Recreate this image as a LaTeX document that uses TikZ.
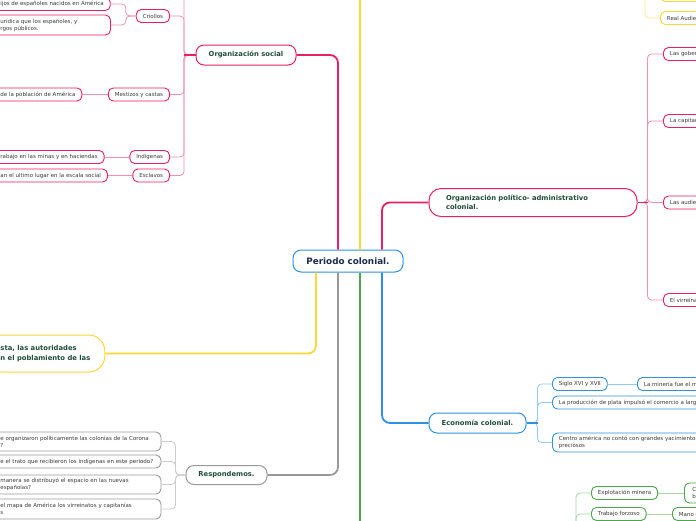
\documentclass[tikz,border=0pt]{standalone}
\usepackage{fontspec}
\setmainfont{DejaVu Sans}
\usetikzlibrary{positioning}
\definecolor{pinkc}{HTML}{E91E63}
\definecolor{pinkl}{HTML}{F48FB1}
\definecolor{yelc}{HTML}{FDD835}
\definecolor{yell}{HTML}{FFE57F}
\definecolor{bluc}{HTML}{2E91E5}
\definecolor{blul}{HTML}{90CAF9}
\definecolor{grnc}{HTML}{4CA64A}
\definecolor{grnl}{HTML}{A5D6A7}
\definecolor{gryc}{HTML}{999999}
\definecolor{gryl}{HTML}{CCCCCC}
\definecolor{navy}{HTML}{1B2A4E}
\definecolor{dgreen}{HTML}{1E4D3A}
\definecolor{leaftext}{HTML}{3A3A3A}
\tikzset{
  central/.style={draw=bluc, fill=white, line width=1pt, rounded corners=8pt,
    font=\bfseries\fontsize{8.8}{10}\selectfont, text=navy,
    minimum width=110pt, minimum height=22pt},
  topic/.style={draw=#1, fill=white, line width=1pt, rounded corners=8pt,
    font=\bfseries\fontsize{6.8}{9.5}\selectfont, text=dgreen,
    minimum height=20pt, inner xsep=11.5pt, align=left},
  leaf/.style={draw=#1, fill=white, line width=0.9pt, rounded corners=5pt,
    font=\fontsize{5.5}{6.8}\selectfont, text=leaftext,
    minimum height=13pt, inner xsep=6.5pt, inner ysep=1.5pt, align=left},
  trunk/.style={draw=#1, line width=1.8pt, rounded corners=8pt},
  twig/.style={draw=#1, line width=0.8pt, rounded corners=4pt}
}

\begin{document}
\begin{tikzpicture}[x=1pt,y=-1pt]
\useasboundingbox (0,0) rectangle (696,520);
\clip (0,0) rectangle (696,520);

% centre
\node[central] (root) at (348,261) {Periodo colonial.};

% organizacion social
\node[topic=pinkc, minimum width=100pt] (orgsoc) at (246,55) {Organización social};
\node[leaf=pinkc, anchor=east] (criollos) at (170,16) {Criollos};
\node[leaf=pinkc, anchor=east] (mestizos) at (170,94.5) {Mestizos y castas};
\node[leaf=pinkc, anchor=east] (indigenas) at (170,157) {Indígenas};
\node[leaf=pinkc, anchor=east] (esclavos) at (170,175.5) {Esclavos};
\node[leaf=pinkc, anchor=west] (hijos) at (-6.5,4) {ijos de españoles nacidos en América};
\node[leaf=pinkc, anchor=west, text width=103.5pt, minimum height=20pt] (juridica) at (-6.5,25)
  {urídica que los españoles, y\\rgos públicos.};
\node[leaf=pinkc, anchor=west] (poblacion) at (-6.5,94.5) {de la población de América};
\node[leaf=pinkc, anchor=west] (trabajo) at (-6.5,157) {rabajo en las minas y en haciendas};
\node[leaf=pinkc, anchor=west] (ultimo) at (-6.5,175.5) {an el ultimo lugar en la escala social};
\coordinate (soctop) at (184.5,-20);

% yellow, left
\node[topic=yelc, anchor=west, inner xsep=14.5pt, minimum height=37pt, rounded corners=16pt] (ybig) at (-14.5,353.5)
  {sta, las autoridades\\n el poblamiento de las};
\coordinate (yup) at (360,-20);

% respondemos
\node[topic=gryc, minimum width=81pt, minimum height=19pt] (respond) at (226.5,475) {Respondemos.};
\node[leaf=gryc, anchor=west, text width=154pt, minimum height=19pt] (q1) at (-6.5,441.5)
  {e organizaron políticamente las colonias de la Corona\\?};
\node[leaf=gryc, anchor=west, text width=154pt] (q2) at (-6.5,461.5)
  {e el trato que recibieron los indígenas en este periodo?};
\node[leaf=gryc, anchor=west, text width=154pt, minimum height=19pt] (q3) at (-6.5,484.5)
  {manera se distribuyó el espacio en las nuevas\\españolas?};
\node[leaf=gryc, anchor=west, text width=154pt, minimum height=20pt] (q4) at (-6.5,509)
  {el mapa de América los virreinatos y capitanías\\s};

% organizacion politico-administrativa
\node[topic=pinkc, text width=174pt, inner xsep=17pt, minimum height=28pt, rounded corners=12pt] (orgpol) at (533,202.5)
  {Organización político- administrativo\\colonial.};
\node[leaf=pinkc, anchor=west] (gob) at (663,54) {Las gobernaciones};
\node[leaf=pinkc, anchor=west] (cap) at (663,121) {La capitanía general};
\node[leaf=pinkc, anchor=west] (aud) at (663,202.5) {Las audiencias};
\node[leaf=pinkc, anchor=west] (vir) at (663,300) {El virreinato};

% yellow, top right
\node[leaf=yelc, anchor=west] (real) at (660,18) {Real Audiencia};
\node[leaf=yelc, anchor=west, minimum width=60pt] (ytop) at (660,-5) {};
\coordinate (yfork) at (645,-20);

% economia
\node[topic=bluc, minimum width=97pt] (economia) at (477.5,423) {Economía colonial.};
\node[leaf=bluc, anchor=west] (siglo) at (552,384) {Siglo XVI y XVII};
\node[leaf=bluc, anchor=west] (mineria) at (637,384) {La minería fue el motor};
\node[leaf=bluc, anchor=west] (plata) at (552,402.5) {La producción de plata impulsó el comercio a larga distancia};
\node[leaf=bluc, anchor=west, text width=200pt, minimum height=19pt] (centro) at (552,442.5)
  {Centro américa no contó con grandes yacimientos de metales\\preciosos};

% green, bottom
\node[leaf=grnc, anchor=west] (explot) at (591,493) {Explotación minera};
\node[leaf=grnc, anchor=west, text width=40pt, minimum height=20pt, inner xsep=8pt] (expc) at (684,493) {C\\b};
\node[leaf=grnc, anchor=west] (forzoso) at (591,514) {Trabajo forzoso};
\node[leaf=grnc, anchor=west] (mano) at (672,514) {Mano de obra};
\coordinate (gdown) at (360,540);
\coordinate (gfork) at (576,540);

% trunks
\draw[trunk=pinkc] ([xshift=-10pt]root.north) |- (orgsoc.east);
\draw[trunk=yelc] ([xshift=12pt]root.north) -- (yup);
\draw[trunk=pinkc] ([xshift=34pt]root.north) |- (orgpol.west);
\draw[trunk=yelc] ([xshift=-32pt]root.south) |- (ybig.east);
\draw[trunk=gryc] ([xshift=-10pt]root.south) |- (respond.east);
\draw[trunk=grnc] ([xshift=12pt]root.south) -- (gdown);
\draw[trunk=bluc] ([xshift=34pt]root.south) |- (economia.west);

% twigs
\draw[twig=pinkl] (orgsoc.west) -- ++(-11.5,0) |- (soctop);
\foreach \n in {criollos,mestizos,indigenas,esclavos}
  \draw[twig=pinkl] (orgsoc.west) -- ++(-11.5,0) |- (\n.east);
\draw[pinkc, line width=1.5pt] (orgsoc.west) -- ++(-11.5,0);
\foreach \n in {hijos,juridica}
  \draw[twig=pinkl] (criollos.west) -- ++(-10,0) |- (\n.east);
\draw[twig=pinkl] (mestizos.west) -- (poblacion.east);
\draw[twig=pinkl] (indigenas.west) -- (trabajo.east);
\draw[twig=pinkl] (esclavos.west) -- (ultimo.east);

\foreach \n in {1,...,4}
  \draw[twig=gryl] (respond.west) -- ++(-10,0) |- (q\n.east);

\foreach \n in {gob,cap,aud,vir}
  \draw[twig=pinkl] (orgpol.east) -- ++(10,0) |- (\n.west);
\draw[pinkc, line width=1.5pt] (orgpol.east) -- ++(10,0);

\draw[twig=yell] (yfork) |- (real.west);
\draw[twig=yell] (yfork) |- (ytop.west);

\foreach \n in {siglo,plata,centro}
  \draw[twig=blul] (economia.east) -- ++(11,0) |- (\n.west);
\draw[bluc, line width=1.5pt] (economia.east) -- ++(11,0);
\draw[twig=blul] (siglo.east) -- (mineria.west);

\draw[twig=grnl] (gfork) |- (explot.west);
\draw[twig=grnl] (gfork) |- (forzoso.west);
\draw[twig=grnl] (explot.east) -- (expc.west);
\draw[twig=grnl] (forzoso.east) -- (mano.west);
\end{tikzpicture}
\end{document}
